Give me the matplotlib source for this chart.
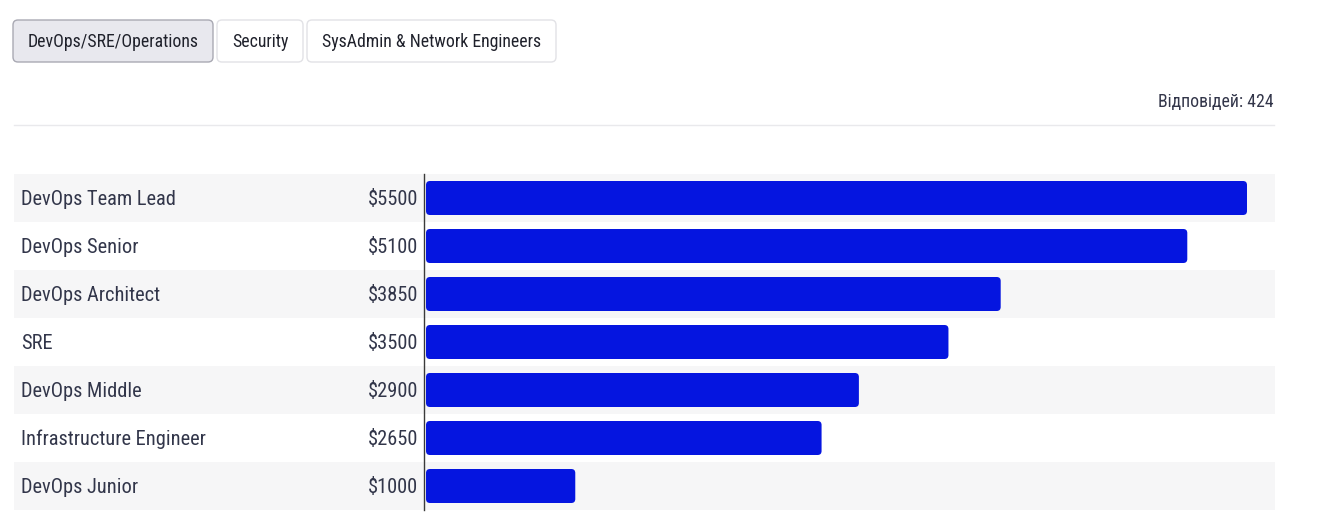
import matplotlib
matplotlib.use("Agg")
import matplotlib.pyplot as plt
from matplotlib.patches import FancyBboxPatch, Rectangle
from matplotlib import font_manager

categories = ["DevOps Team Lead", "DevOps Senior", "DevOps Architect", "SRE",
              "DevOps Middle", "Infrastructure Engineer", "DevOps Junior"]
values = [5500, 5100, 3850, 3500, 2900, 2650, 1000]
value_labels = ["$5500", "$5100", "$3850", "$3500", "$2900", "$2650", "$1000"]
tabs = ["DevOps/SRE/Operations", "Security", "SysAdmin & Network Engineers"]
responses_label = "Відповідей: 424"

names = {f.name for f in font_manager.fontManager.ttflist}
FONT = "Roboto Condensed" if "Roboto Condensed" in names else "Roboto"
plt.rcParams["font.family"] = [FONT, "DejaVu Sans"]

W, H = 1338, 529
fig = plt.figure(figsize=(W / 100, H / 100), dpi=100)
TXT = "#32364a"
BAR = "#0515e0"
WEIGHT = "normal"

def fx(px):
    return px / W

def fy(py):
    return 1 - py / H

# overlay axes in pixel coordinates for UI elements
ui = fig.add_axes([0, 0, 1, 1])
ui.set_xlim(0, W)
ui.set_ylim(H, 0)
ui.axis("off")

# tabs
tab_boxes = [(13, 213), (217, 303), (307, 556)]
for i, (t, (x0, x1)) in enumerate(zip(tabs, tab_boxes)):
    active = i == 0
    p = FancyBboxPatch((x0, 20), x1 - x0, 42,
                       boxstyle="round,pad=0,rounding_size=5",
                       facecolor="#e8e8ee" if active else "white",
                       edgecolor="#a9a9b3" if active else "#e2e2e6",
                       linewidth=1.0)
    ui.add_patch(p)
    ui.text((x0 + x1) / 2, 42, t, ha="center", va="center",
            fontsize=12.8, color="#1f212b", fontweight=WEIGHT)

ui.text(1274, 101.5, responses_label, ha="right", va="center",
        fontsize=12.8, color="#33364a", fontweight=WEIGHT)
ui.plot([14, 1274], [125, 125], color="#e9e9ec", linewidth=1)

# chart rows
n = len(categories)
top, row_h = 174, 48
for i in range(n):
    y0 = top + i * row_h
    if i % 2 == 0:
        ui.add_patch(Rectangle((14, y0), 1275 - 14, row_h,
                               facecolor="#f6f6f7", edgecolor="none", zorder=0))
    yc = y0 + row_h / 2
    ui.text(21, yc + 1.5, categories[i], ha="left", va="center",
            fontsize=14.7, color=TXT, fontweight=WEIGHT)
    ui.text(418, yc + 1.5, value_labels[i], ha="right", va="center",
            fontsize=14.7, color=TXT, fontweight=WEIGHT)
ui.plot([424, 424], [top, top + n * row_h], color="#3a3a3a", linewidth=1.0, zorder=3)

# bar axes
ax_left, ax_right = 424, 1275
ax = fig.add_axes([fx(ax_left), fy(top + n * row_h), fx(ax_right - ax_left),
                   (n * row_h) / H])
ax.patch.set_alpha(0)
ax.axis("off")
px_per_unit = (1247 - 426) / 5500.0
x_lo = -(426 - ax_left) / px_per_unit
x_hi = (ax_right - 426) / px_per_unit
ax.set_xlim(x_lo, x_hi)
ax.set_ylim(n - 0.5, -0.5)
bar_h = 34 / 48
unit_per_px_x = 1 / px_per_unit
unit_per_px_y = 1 / 48
aspect = unit_per_px_y / unit_per_px_x
for i, v in enumerate(values):
    p = FancyBboxPatch((0, i - bar_h / 2), v, bar_h,
                       boxstyle=f"round,pad=0,rounding_size={4 * unit_per_px_x}",
                       mutation_aspect=aspect,
                       facecolor=BAR, edgecolor="none")
    ax.add_patch(p)

fig.savefig("out.png", dpi=100)
